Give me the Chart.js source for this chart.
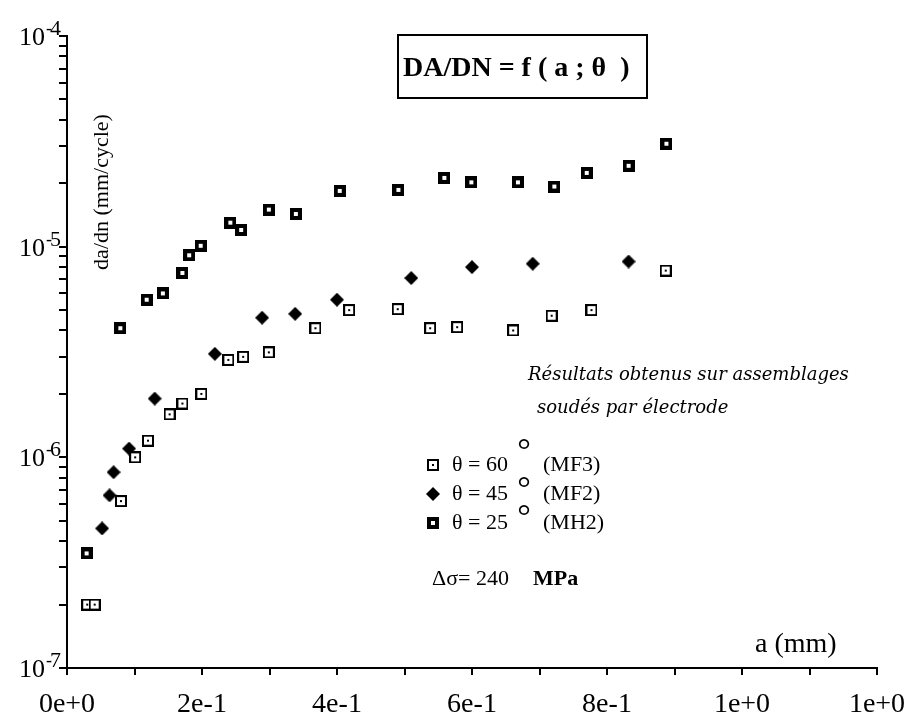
<!DOCTYPE html>
<html>
<head>
<meta charset="utf-8">
<script src="https://cdn.jsdelivr.net/npm/chart.js@4.4.0/dist/chart.umd.min.js"></script>
<style>
  html, body { margin: 0; padding: 0; background: #fff; }
  #wrap { width: 907px; height: 726px; }
</style>
</head>
<body>
<div id="wrap"><canvas id="chart" width="907" height="726"></canvas></div>
<script>
// Valeurs : a (mm) et da/dn (mm/cycle)

// theta = 60° (MF3)
const aMF3 = [0.030, 0.041, 0.080, 0.101, 0.120, 0.152, 0.171, 0.199, 0.239, 0.261,
              0.299, 0.368, 0.418, 0.490, 0.538, 0.578, 0.661, 0.718, 0.777, 0.887];
const dadnMF3 = [2.0e-7, 2.0e-7, 6.2e-7, 1.0e-6, 1.2e-6, 1.6e-6, 1.8e-6, 2.0e-6, 2.9e-6, 3.0e-6,
                 3.15e-6, 4.1e-6, 5.0e-6, 5.05e-6, 4.1e-6, 4.15e-6, 4.0e-6, 4.7e-6, 5.0e-6, 7.7e-6];

// theta = 45° (MF2)
const aMF2 = [0.052, 0.063, 0.069, 0.092, 0.130, 0.219, 0.289, 0.338, 0.400, 0.510, 0.600, 0.690, 0.832];
const dadnMF2 = [4.6e-7, 6.6e-7, 8.5e-7, 1.1e-6, 1.9e-6, 3.1e-6, 4.6e-6, 4.8e-6, 5.6e-6, 7.1e-6, 8.0e-6, 8.3e-6, 8.5e-6];

// theta = 25° (MH2)
const aMH2 = [0.029, 0.079, 0.118, 0.142, 0.171, 0.181, 0.198, 0.242, 0.258, 0.299,
              0.339, 0.404, 0.491, 0.559, 0.599, 0.668, 0.722, 0.770, 0.832, 0.888];
const dadnMH2 = [3.5e-7, 4.1e-6, 5.6e-6, 6.0e-6, 7.5e-6, 9.1e-6, 1.01e-5, 1.30e-5, 1.20e-5, 1.50e-5,
                 1.43e-5, 1.84e-5, 1.86e-5, 2.12e-5, 2.02e-5, 2.02e-5, 1.93e-5, 2.24e-5, 2.42e-5, 3.08e-5];

// axes
const xTickValues = [0, 0.1, 0.2, 0.3, 0.4, 0.5, 0.6, 0.7, 0.8, 0.9, 1.0, 1.1, 1.2];
const xTickLabels = ['0e+0', '', '2e-1', '', '4e-1', '', '6e-1', '', '8e-1', '', '1e+0', '', '1e+0'];
const yDecades = [-7, -6, -5, -4];
const yDecadeLabels = ['7', '6', '5', '4'];

const legendLabels = ['\u03b8 = 60', '\u03b8 = 45', '\u03b8 = 25'];
const legendCodes = ['(MF3)', '(MF2)', '(MH2)'];

// graduations logarithmiques : 1..9 x 10^n
const yTickValues = [];
for (let i = 0; i < yDecades.length - 1; i++) {
    for (let m = 1; m <= 9; m++) yTickValues.push(m * Math.pow(10, yDecades[i]));
}
yTickValues.push(Math.pow(10, yDecades[yDecades.length - 1]));

// Marqueurs dessinés sur de petits canvas
function makeMarker(kind) {
    const c = document.createElement('canvas');
    const g = c.getContext('2d');
    if (kind === 'open') {
        c.width = 12; c.height = 12;
        g.fillStyle = '#fff'; g.fillRect(0, 0, 12, 12);
        g.strokeStyle = '#000'; g.lineWidth = 2; g.strokeRect(1, 1, 10, 10);
        g.fillStyle = '#000'; g.fillRect(5, 5, 2, 2);
    } else if (kind === 'heavy') {
        c.width = 12; c.height = 12;
        g.fillStyle = '#000'; g.fillRect(0, 0, 12, 12);
        g.fillStyle = '#fff'; g.fillRect(4, 4, 4, 4);
    } else {
        c.width = 14; c.height = 14;
        g.fillStyle = '#000';
        g.beginPath();
        g.moveTo(7, 0); g.lineTo(14, 7); g.lineTo(7, 14); g.lineTo(0, 7);
        g.closePath(); g.fill();
    }
    return c;
}
const markerMF3 = makeMarker('open');
const markerMF2 = makeMarker('diamond');
const markerMH2 = makeMarker('heavy');

function toPoints(xs, ys) {
    return xs.map((x, i) => ({ x: x, y: ys[i] }));
}

const serif = '"Liberation Serif", "Times New Roman", serif';

// Textes et graduations dessinés autour de la zone du graphique
const annotations = {
    id: 'annotations',
    afterDatasetsDraw(chart) {
        const ctx = chart.ctx;
        const area = chart.chartArea;
        const yScale = chart.scales.y;
        ctx.save();
        ctx.fillStyle = '#000';
        ctx.strokeStyle = '#000';
        ctx.textBaseline = 'alphabetic';

        // petites graduations de l'axe y (côté gauche)
        ctx.lineWidth = 2;
        ctx.beginPath();
        yTickValues.forEach(v => {
            const py = Math.round(yScale.getPixelForValue(v));
            ctx.moveTo(area.left - 8, py);
            ctx.lineTo(area.left, py);
        });
        ctx.stroke();

        // étiquettes de l'axe y : 10^-n
        yDecades.forEach((e, i) => {
            const py = yScale.getPixelForValue(Math.pow(10, e));
            ctx.textAlign = 'right';
            ctx.font = '26px ' + serif;
            ctx.fillText('10', area.left - 22, py + 9);
            ctx.textAlign = 'left';
            ctx.font = '18px ' + serif;
            ctx.fillText('-', area.left - 21, py - 2);
            ctx.font = '22px ' + serif;
            ctx.fillText(yDecadeLabels[i], area.left - 17, py - 1);
        });

        // titre de l'axe y
        ctx.save();
        ctx.translate(102, 192);
        ctx.rotate(-Math.PI / 2);
        ctx.textAlign = 'center';
        ctx.textBaseline = 'middle';
        ctx.font = '22px ' + serif;
        ctx.fillText('da/dn (mm/cycle)', 0, 0);
        ctx.restore();

        // titre de l'axe x
        ctx.textAlign = 'left';
        ctx.font = '28px ' + serif;
        ctx.fillText('a (mm)', 755, area.bottom - 16);

        // cadre du titre
        ctx.lineWidth = 2;
        ctx.strokeRect(398, 35, 249, 63);
        ctx.font = 'bold 28px ' + serif;
        ctx.fillText('DA/DN = f ( a ; \u03b8  )', 403, 76);

        // commentaire
        ctx.font = 'italic 18px "DejaVu Serif", serif';
        ctx.fillText('R\u00e9sultats obtenus sur assemblages', 528, 380);
        ctx.fillText('soud\u00e9s par \u00e9lectrode', 537, 413);

        // légende
        const markers = [markerMF3, markerMF2, markerMH2];
        const rowY = [465, 494, 523];
        const degY = [444, 482, 510];
        rowY.forEach((ry, i) => {
            const m = markers[i];
            ctx.drawImage(m, Math.round(433 - m.width / 2), Math.round(ry - m.height / 2));
            ctx.font = '22px ' + serif;
            ctx.fillText(legendLabels[i], 452, ry + 6);
            ctx.fillText(legendCodes[i], 543, ry + 6);
            ctx.font = '34px ' + serif;
            const mt = ctx.measureText('\u00b0');
            const by = degY[i] + (mt.actualBoundingBoxAscent - mt.actualBoundingBoxDescent) / 2;
            ctx.textAlign = 'center';
            ctx.fillText('\u00b0', 524, by);
            ctx.textAlign = 'left';
        });

        ctx.font = '22px ' + serif;
        ctx.fillText('\u0394\u03c3= 240', 432, 585);
        ctx.font = 'bold 22px ' + serif;
        ctx.fillText('MPa', 533, 585);

        ctx.restore();
    }
};

const chart = new Chart(document.getElementById('chart'), {
    type: 'scatter',
    data: {
        datasets: [
            { label: '\u03b8 = 60\u00b0 (MF3)', data: toPoints(aMF3, dadnMF3), pointStyle: markerMF3, pointRadius: 6 },
            { label: '\u03b8 = 45\u00b0 (MF2)', data: toPoints(aMF2, dadnMF2), pointStyle: markerMF2, pointRadius: 7 },
            { label: '\u03b8 = 25\u00b0 (MH2)', data: toPoints(aMH2, dadnMH2), pointStyle: markerMH2, pointRadius: 6 }
        ]
    },
    options: {
        responsive: false,
        animation: false,
        devicePixelRatio: 1,
        layout: { padding: { top: 36, right: 30, left: 0, bottom: 0 } },
        plugins: {
            legend: { display: false },
            tooltip: { enabled: false }
        },
        scales: {
            x: {
                type: 'linear',
                min: 0,
                max: 1.2,
                afterBuildTicks: (scale) => { scale.ticks = xTickValues.map(v => ({ value: v })); },
                afterFit: (scale) => {
                    scale.height = 58;
                    scale.paddingLeft = 0;
                    scale.paddingRight = 0;
                },
                grid: { drawOnChartArea: false, drawTicks: true, tickLength: 7, color: '#000', lineWidth: 2 },
                border: { display: true, color: '#000', width: 2 },
                ticks: {
                    autoSkip: false,
                    maxRotation: 0,
                    padding: 13,
                    color: '#000',
                    font: { family: serif, size: 28 },
                    callback: (value, index) => xTickLabels[index]
                }
            },
            y: {
                type: 'logarithmic',
                min: 1e-7,
                max: 1e-4,
                afterBuildTicks: (scale) => { scale.ticks = yTickValues.map(v => ({ value: v })); },
                afterFit: (scale) => {
                    scale.width = 67;
                    scale.paddingTop = 0;
                    scale.paddingBottom = 0;
                },
                grid: { drawOnChartArea: false, drawTicks: true, tickLength: 8, color: '#000', lineWidth: 2 },
                border: { display: true, color: '#000', width: 2 },
                ticks: { display: true, autoSkip: false, padding: 0, font: { size: 1 }, callback: () => '' }
            }
        }
    },
    plugins: [annotations]
});
</script>
</body>
</html>
